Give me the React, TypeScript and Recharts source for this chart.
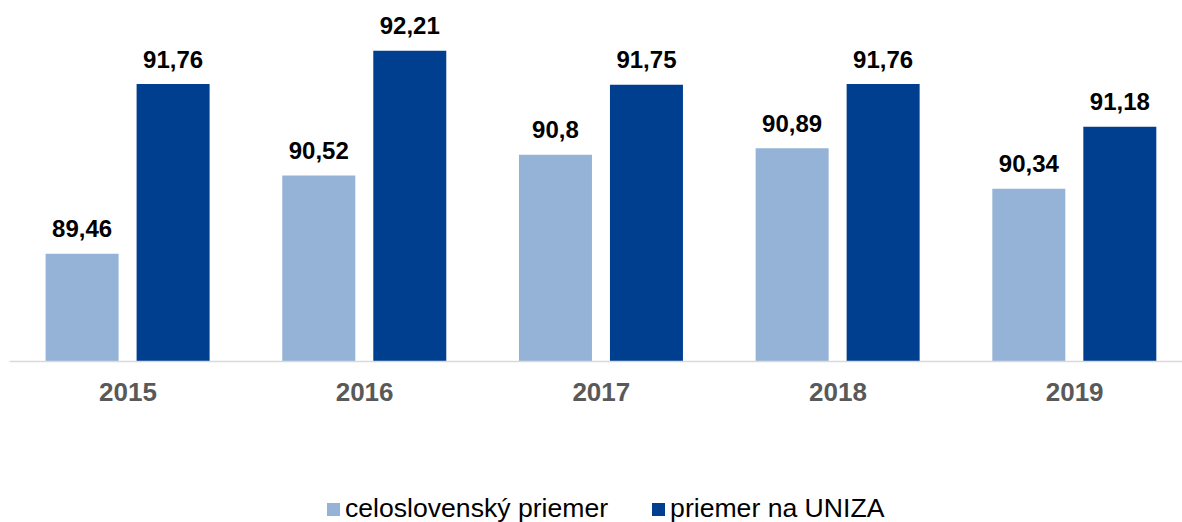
import { Bar, BarChart, LabelList, XAxis, YAxis } from 'recharts'

const YEARS = ['2015', '2016', '2017', '2018', '2019']
const NATIONAL = [89.46, 90.52, 90.8, 90.89, 90.34]
const UNIZA = [91.76, 92.21, 91.75, 91.76, 91.18]

const SERIES = [
  ['national', 'celoslovenský priemer', '#95B3D7'],
  ['uniza', 'priemer na UNIZA', '#003F8F'],
] as const

const FONT = '"Liberation Sans", Arial, sans-serif'

const data = YEARS.map((year, i) => ({ year, national: NATIONAL[i], uniza: UNIZA[i] }))

const fmt = (v: any) => String(v).replace('.', ',')

export default function App() {
  return (
    <div style={{ position: 'absolute', left: 0, top: 0, width: 1182, height: 522, overflow: 'hidden', background: '#fff', fontFamily: FONT }}>
      <BarChart
        width={1200}
        height={522}
        data={data}
        margin={{ top: 29.4, right: 7, left: 9.6, bottom: 100.5 }}
        barSize={73}
        barGap={18}
        barCategoryGap={36}
      >
        <XAxis
          dataKey="year"
          height={60}
          tickLine={false}
          axisLine={{ stroke: '#D9D9D9', strokeWidth: 1.5 }}
          tickMargin={15.5}
          tick={{ fill: '#595959', fontSize: 26, fontWeight: 'bold', fontFamily: FONT }}
        />
        <YAxis hide domain={[88, 92.5]} />
        {SERIES.map(([key, , color]) => (
          <Bar key={key} dataKey={key} fill={color} isAnimationActive={false}>
            <LabelList
              dataKey={key}
              position="top"
              offset={16.5}
              formatter={fmt}
              style={{ fill: '#000', fontSize: 24, fontWeight: 'bold', fontFamily: FONT }}
            />
          </Bar>
        ))}
      </BarChart>
      <div style={{ position: 'absolute', top: 493, left: 327, display: 'flex', alignItems: 'center', fontSize: 26.6, color: '#000', lineHeight: '30px' }}>
        {SERIES.map(([key, name, color], i) => (
          <div key={key} style={{ display: 'flex', alignItems: 'center', marginLeft: i ? 44 : 0 }}>
            <span style={{ display: 'inline-block', width: 13, height: 13, background: color, marginRight: 5, marginTop: 2 }} />
            <span>{name}</span>
          </div>
        ))}
      </div>
    </div>
  )
}
